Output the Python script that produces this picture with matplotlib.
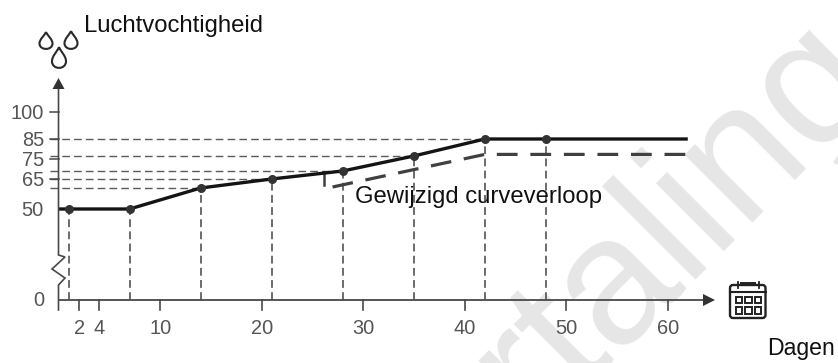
import numpy as np
import matplotlib
matplotlib.use("Agg")
import matplotlib.pyplot as plt
from matplotlib.path import Path
from matplotlib.patches import PathPatch, FancyBboxPatch, Rectangle
from matplotlib.transforms import Affine2D

# ---- data ----
days = [0, 1, 7, 14, 21, 28, 35, 42, 48, 62]
humidity = [50, 50, 50, 60.5, 65, 69, 76.5, 85, 85, 85]
point_days = [1, 7, 14, 21, 28, 35, 42, 48]
point_humidity = [50, 50, 60.5, 65, 69, 76.5, 85, 85]
guide_days = [14, 21, 28, 35, 42]
guide_humidity = [60.5, 65, 69, 76.5, 85]
changed_days = [27, 42, 62]
changed_humidity = [61, 77.3, 77.3]
drop_day = [26.2, 26.2]
drop_humidity = [68.5, 62]
x_ticks = [2, 4, 10, 20, 30, 40, 50, 60]
y_ticks = [0, 50, 65, 75, 85, 100]

W, H = 838, 363
plt.rcParams['font.family'] = ['Liberation Sans', 'DejaVu Sans']
fig = plt.figure(figsize=(W / 100, H / 100), dpi=100)
ax = fig.add_axes([0, 0, 1, 1])

# axis scale (broken y axis between 0 and 50)
V = [-200, 0, 50, 85, 100, 400]
P = [363 - 299.5 - 200, 363 - 299.5, 363 - 209, 363 - 139, 363 - 112, 363 - 112 + 540]
ax.set_yscale('function', functions=(lambda v: np.interp(v, V, P), lambda p: np.interp(p, P, V)))
ax.set_ylim(np.interp(0, P, V), np.interp(363, P, V))
PX = 10.15
X0 = 58.5
ax.set_xlim(-X0 / PX, (W - X0) / PX)
ax.axis('off')

px = Affine2D().scale(1, -1).translate(0, H)   # decoration in pixel coordinates
AX = '#484848'
TXT = '#555555'

# watermark
ax.text(389, 585, 'Vertaling', transform=px, rotation=45, rotation_mode='anchor',
        ha='left', va='baseline', fontsize=130, color='#e6e6e6', zorder=0, clip_on=True)

# guides
h_kw = dict(color='#5a5a5a', lw=1.0, dashes=(5.5, 3), zorder=2)
v_kw = dict(color='#5a5a5a', lw=1.25, dashes=(4.5, 2.5), zorder=2)
for d, h in zip(guide_days, guide_humidity):
    ax.plot([-0.8, d], [h, h], **h_kw)
for d, h in zip(point_days, point_humidity):
    ax.plot([d, d], [0, h], **v_kw)

# curves
ax.plot(days, humidity, color='#141414', lw=2.4, solid_capstyle='butt', zorder=4)
ax.plot(changed_days, changed_humidity, color='#404040', lw=2.3, dashes=(6.5, 4), zorder=3)
ax.plot(drop_day, drop_humidity, color='#404040', lw=1.8, zorder=3)
ax.plot(point_days, point_humidity, 'o', color='#333333', ms=6.5, mew=0, zorder=5)

# y axis with break
ax.plot([58.5, 58.5, 65, 52, 65, 58.5, 58.5], [310, 285, 278, 269, 257, 255, 84],
        color=AX, lw=1.2, transform=px, zorder=6, solid_joinstyle='miter', clip_on=False)
ax.add_patch(PathPatch(Path([(58.5, 78), (52.5, 89), (64.5, 89), (58.5, 78)]), fc='#333333', ec='none',
                       transform=px, zorder=6))
# x axis
ax.plot([0, 64.2], [0, 0], color=AX, lw=1.3, zorder=6)
ax.add_patch(PathPatch(Path([(715, 300), (703, 294), (703, 306), (715, 300)]), fc='#333333', ec='none',
                       transform=px, zorder=6))

# ticks
for t in x_ticks:
    ax.plot([t, t], [0, np.interp(363 - 310, P, V)], color=AX, lw=1.2, zorder=6)
    ax.annotate(str(t), (t, 0), xytext=(0.5, -28.5), textcoords='offset pixels', ha='center', va='center',
                fontsize=14.4, color=TXT, annotation_clip=False)
for t in y_ticks:
    if t not in (0, 50):
        ax.plot([-0.85, 0], [t, t], color=AX, lw=1.1, zorder=6)
    ax.annotate(str(t), (0, t), xytext=(-14.5, -1.5), textcoords='offset pixels', ha='right', va='center',
                fontsize=14.4, color=TXT, annotation_clip=False)

# text
tk = dict(color='#111111', transform=px)
ax.text(83.5, 26, 'Luchtvochtigheid', fontsize=17.2, va='center', ha='left', **tk)
ax.text(355, 197, 'Gewijzigd curveverloop', fontsize=17.2, va='center', ha='left', **tk)
ax.text(767, 349, 'Dagen', fontsize=16.6, va='center', ha='left', **tk)

# water drops
def drop(cx, top_y, bottom_y, r):
    h = bottom_y - top_y
    verts = [(cx, top_y), (cx + r * 0.3, top_y + h * 0.25), (cx + r, top_y + h * 0.42), (cx + r, top_y + h * 0.68),
             (cx + r, bottom_y + h * 0.1), (cx - r, bottom_y + h * 0.1), (cx - r, top_y + h * 0.68),
             (cx - r, top_y + h * 0.42), (cx - r * 0.3, top_y + h * 0.25), (cx, top_y)]
    codes = [Path.MOVETO] + [Path.CURVE4] * 9
    ax.add_patch(PathPatch(Path(verts, codes), fc='none', ec='#2a2a2a', lw=1.5, transform=px, zorder=6))
drop(46, 32, 49, 6.5)
drop(71, 31, 49, 6.5)
drop(59, 47, 68, 7)

# calendar icon
CAL = '#222222'
ax.add_patch(FancyBboxPatch((730, 285), 35.5, 33, boxstyle='round,pad=0,rounding_size=3', fc='none',
                            ec=CAL, lw=1.7, transform=px, zorder=6))
ax.plot([730, 765.5], [291.5, 291.5], color=CAL, lw=1.5, transform=px, zorder=6)
ax.plot([741, 755], [283, 283], color=CAL, lw=1.4, transform=px, zorder=6)
for cx in (737.5, 758.5):
    ax.plot([cx, cx], [282, 288], color=CAL, lw=1.3, transform=px, zorder=6)
for row in (296.5, 307):
    for col in (735.5, 745, 754.5):
        ax.add_patch(Rectangle((col, row), 6.5, 6.5, fc='none', ec=CAL, lw=1.4, transform=px, zorder=6))

fig.savefig('out.png', dpi=100, facecolor='white')
